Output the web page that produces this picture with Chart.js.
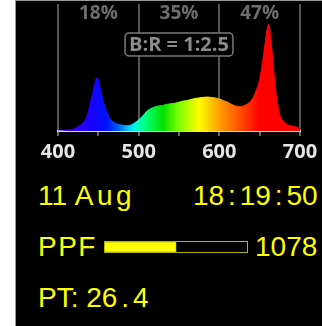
<!DOCTYPE html>
<html>
<head>
<meta charset="utf-8">
<script src="https://cdn.jsdelivr.net/npm/chart.js@4.4.1/dist/chart.umd.min.js"></script>
<style>
  html, body { margin: 0; padding: 0; background: #fff; width: 322px; height: 326px; overflow: hidden; }
  #panel { position: absolute; left: 15px; top: 0; width: 320px; height: 330px; background: #000;
           border-left: 1px solid #9a9a9a; border-top: 1px solid #9a9a9a; }
  #spectrum { position: absolute; left: 0; top: 0; }
  .txt { position: absolute; color: #ffff00; font-family: "Liberation Sans", Arial, sans-serif;
         font-size: 28px; line-height: 28px; white-space: nowrap; }
  .cell { display: inline-block; width: 15.6px; text-align: center; }
  #ppfBox { position: absolute; left: 104px; top: 241px; width: 144px; height: 12px;
            box-sizing: border-box; border: 1px solid #b4b400; }
  #ppfBar { display: block; }
</style>
</head>
<body>
<div id="panel"></div>
<canvas id="spectrum" width="322" height="171"></canvas>

<div class="txt" style="left:38px; top:182px;">11 <span style="letter-spacing:3.5px">Aug</span></div>
<div class="txt" id="clock" style="left:193px; top:182px;"></div>
<div class="txt" style="left:38px; top:233px; letter-spacing:1.5px;">PPF</div>
<div id="ppfBox"><canvas id="ppfBar" width="142" height="10"></canvas></div>
<div class="txt" id="ppfText" style="left:255px; top:233px;"></div>
<div class="txt" id="ptText" style="left:38px; top:284px;"></div>

<script>
// spectrum, relative intensity (%) per wavelength (nm)
const wavelengths = [400, 405, 410, 415, 420, 425, 430, 435, 440, 445, 448, 450, 455, 460, 465, 470, 475,
  480, 485, 490, 495, 500, 505, 510, 515, 520, 525, 530, 535, 540, 545, 550, 555, 560, 565, 570, 575,
  580, 585, 590, 595, 600, 605, 610, 615, 620, 625, 630, 635, 640, 645, 650, 655, 658, 661, 665, 668,
  671, 675, 680, 685, 690, 695, 700];
const intensity = [0, 0, 0.5, 1, 2, 4, 7, 12, 26, 42, 50, 48, 31, 19, 11, 8, 6,
  5.5, 5, 5.5, 7.5, 10.5, 14, 18.5, 21, 22.5, 23.5, 24, 25, 25.5, 26, 27, 28, 28.5, 29.5, 30.5, 31,
  31.5, 31.8, 31.5, 31, 30, 28.5, 27, 25, 23.5, 23, 23.5, 25.5, 29, 36.5, 48.5, 72, 89, 100, 77.5, 52,
  31, 15, 8.5, 5.6, 4.7, 3.7, 2.8];

// blue / green / red share of the photon flux
const bandCenters = [450, 550, 650];
const bandShares = [18, 35, 47];
const blueRedRatio = "1:2.5";

// readout values
const dateText = "11 Aug";
const timeText = "18:19:50";
const ppfValue = 1078;
const ppfMax = 2150;
const plantTemp = 26.4;

// colour of each wavelength for the fill
const colorStops = [
  [400, "#4000ff"], [440, "#1c00ff"], [460, "#0010ff"], [475, "#0060ff"], [490, "#00e0ff"],
  [497, "#00ffd0"], [510, "#00ff70"], [530, "#00e000"], [550, "#80ff00"], [575, "#ffff00"],
  [595, "#ffb000"], [615, "#ff7000"], [635, "#ff3000"], [650, "#ff0000"], [700, "#ff0000"]
];

function spectrumFill(context) {
  const chart = context.chart;
  const area = chart.chartArea;
  if (!area) return null;
  const g = chart.ctx.createLinearGradient(area.left, 0, area.right, 0);
  colorStops.forEach(([nm, c]) => g.addColorStop((nm - 400) / 300, c));
  return g;
}

// band percentages and the B:R badge on top of the plot
const overlay = {
  id: "overlay",
  afterDatasetsDraw(chart) {
    const ctx = chart.ctx;
    const x = chart.scales.x;
    ctx.save();
    ctx.textAlign = "center";
    ctx.textBaseline = "middle";
    ctx.font = "bold 19px 'Open Sans'";
    ctx.fillStyle = "#6e6e6e";
    bandCenters.forEach((nm, i) => {
      ctx.fillText(bandShares[i] + "%", x.getPixelForValue(nm), 14);
    });

    const label = "B:R = " + blueRedRatio;
    ctx.font = "bold 20px 'Open Sans'";
    const cx = x.getPixelForValue(550);
    const w = ctx.measureText(label).width + 8;
    const h = 23;
    const top = 33;
    ctx.fillStyle = "#000";
    ctx.strokeStyle = "#7a7a7a";
    ctx.lineWidth = 1.5;
    ctx.beginPath();
    ctx.roundRect(cx - w / 2, top, w, h, 4);
    ctx.fill();
    ctx.stroke();
    ctx.fillStyle = "#8c8c8c";
    ctx.fillText(label, cx, top + h / 2 + 1);
    ctx.restore();
  }
};

new Chart(document.getElementById("spectrum"), {
  type: "line",
  data: {
    datasets: [{
      data: wavelengths.map((nm, i) => ({ x: nm, y: intensity[i] })),
      fill: "origin",
      backgroundColor: spectrumFill,
      borderColor: spectrumFill,
      borderWidth: 1,
      pointRadius: 0,
      cubicInterpolationMode: "monotone"
    }]
  },
  options: {
    responsive: false,
    devicePixelRatio: 1,
    animation: false,
    layout: { padding: { left: 58, right: 22, top: 4, bottom: 0 } },
    plugins: { legend: { display: false }, tooltip: { enabled: false } },
    scales: {
      x: {
        type: "linear",
        min: 400,
        max: 700,
        afterFit: s => { s.height = 40; },
        ticks: {
          stepSize: 50,
          autoSkip: false,
          maxRotation: 0,
          padding: 4,
          color: "#e6e6e6",
          font: { family: "Open Sans", weight: "bold", size: 20 },
          callback: v => (v % 100 === 0 ? v : "")
        },
        grid: {
          color: c => (c.tick && c.tick.value % 100 === 0 ? "#555555" : "rgba(0,0,0,0)"),
          lineWidth: 2,
          tickColor: "#d0d0d0",
          tickLength: 5,
          tickWidth: 1
        },
        border: { color: "#dcdcdc", width: 2 }
      },
      y: { display: false, min: 0, max: 119 }
    }
  },
  plugins: [overlay]
});

// PPF gauge
new Chart(document.getElementById("ppfBar"), {
  type: "bar",
  data: {
    labels: ["PPF"],
    datasets: [{
      data: [ppfValue],
      backgroundColor: "#ffff00",
      borderColor: "#d8d800",
      borderWidth: 1,
      barPercentage: 1,
      categoryPercentage: 1
    }]
  },
  options: {
    indexAxis: "y",
    responsive: false,
    devicePixelRatio: 1,
    animation: false,
    layout: { padding: 0 },
    plugins: { legend: { display: false }, tooltip: { enabled: false } },
    scales: {
      x: { display: false, min: 0, max: ppfMax },
      y: { display: false }
    }
  }
});

// punctuation sits in a digit-wide cell, like the device font
function cells(str) {
  return str.replace(/[:.]/g, m => '<span class="cell">' + m + '</span>');
}
document.getElementById("clock").innerHTML = cells(timeText);
document.getElementById("ppfText").textContent = ppfValue;
document.getElementById("ptText").innerHTML = "PT: " + cells(plantTemp.toFixed(1));
</script>
</body>
</html>
